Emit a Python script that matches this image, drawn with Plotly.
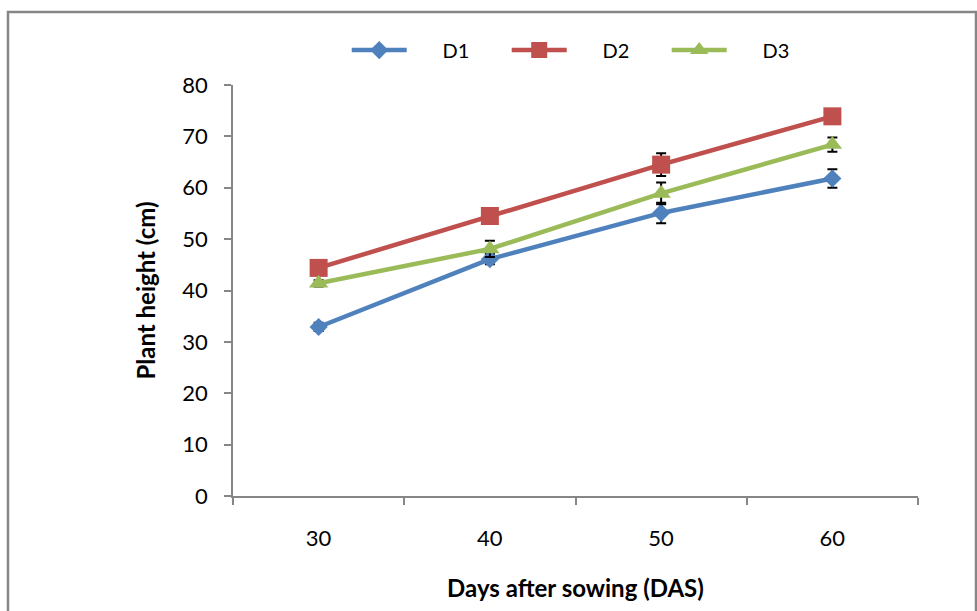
import plotly.graph_objects as go

days = ["30", "40", "50", "60"]
d1 = [32.9, 46.1, 55.1, 61.8]
d2 = [44.4, 54.5, 64.5, 73.9]
d3 = [41.4, 48.1, 58.9, 68.4]
d1_err = [0.8, 1.0, 2.0, 1.8]
d2_err = [0.6, 0.8, 2.2, 1.0]
d3_err = [0.6, 1.6, 2.1, 1.4]

series = [
    ("D1", d1, d1_err, "#4F81BD", "diamond", 14),
    ("D2", d2, d2_err, "#C0504D", "square", 18),
    ("D3", d3, d3_err, "#9BBB59", "triangle-up", 17),
]

NB = "\u00a0" * 6
fig = go.Figure()
for name, vals, err, col, sym, sz in series:
    fig.add_trace(go.Scatter(
        x=days, y=vals, name=NB + name, mode="lines+markers",
        line=dict(color=col, width=4.5),
        marker=dict(symbol=sym, size=sz, color=col),
        error_y=dict(type="data", array=err, visible=True, color="black",
                     thickness=2, width=5),
    ))

FONT = "Lato"
axcol = "#868686"
fig.update_layout(
    width=977, height=611,
    margin=dict(l=233, r=59, t=85, b=115),
    paper_bgcolor="white", plot_bgcolor="white",
    font=dict(family=FONT, color="black"),
    showlegend=True,
    legend=dict(orientation="h", x=0.166, xanchor="left", y=1.085, yanchor="middle",
                font=dict(size=20, family=FONT, color="black"),
                itemwidth=55, entrywidth=90, entrywidthmode="pixels",
                traceorder="normal"),
    xaxis=dict(type="category", categoryorder="array", categoryarray=days,
               range=[-0.5, 3.5], tickson="boundaries", ticks="outside",
               ticklen=7, tickcolor=axcol, tickwidth=1.5,
               showline=True, linecolor=axcol, linewidth=1.5,
               showgrid=False, zeroline=False,
               tickfont=dict(size=22, family=FONT), ticklabelstandoff=22,
               title=dict(text="<b>Days after sowing (DAS)</b>",
                          font=dict(size=24, family=FONT), standoff=30)),
    yaxis=dict(range=[0, 80], dtick=10, ticks="outside", ticklen=7,
               tickcolor=axcol, tickwidth=1.5,
               showline=True, linecolor=axcol, linewidth=1.5,
               showgrid=False, zeroline=False,
               tickfont=dict(size=22, family=FONT), ticklabelstandoff=12,
               title=dict(text="<b>Plant height (cm)</b>",
                          font=dict(size=24, family=FONT), standoff=20)),
    shapes=[dict(type="rect", xref="paper", yref="paper",
                 x0=-0.3285, x1=1.0847, y0=-0.30, y1=1.1776,
                 line=dict(color="#868686", width=2.5), layer="below")],
)

fig.write_html("out.html")
